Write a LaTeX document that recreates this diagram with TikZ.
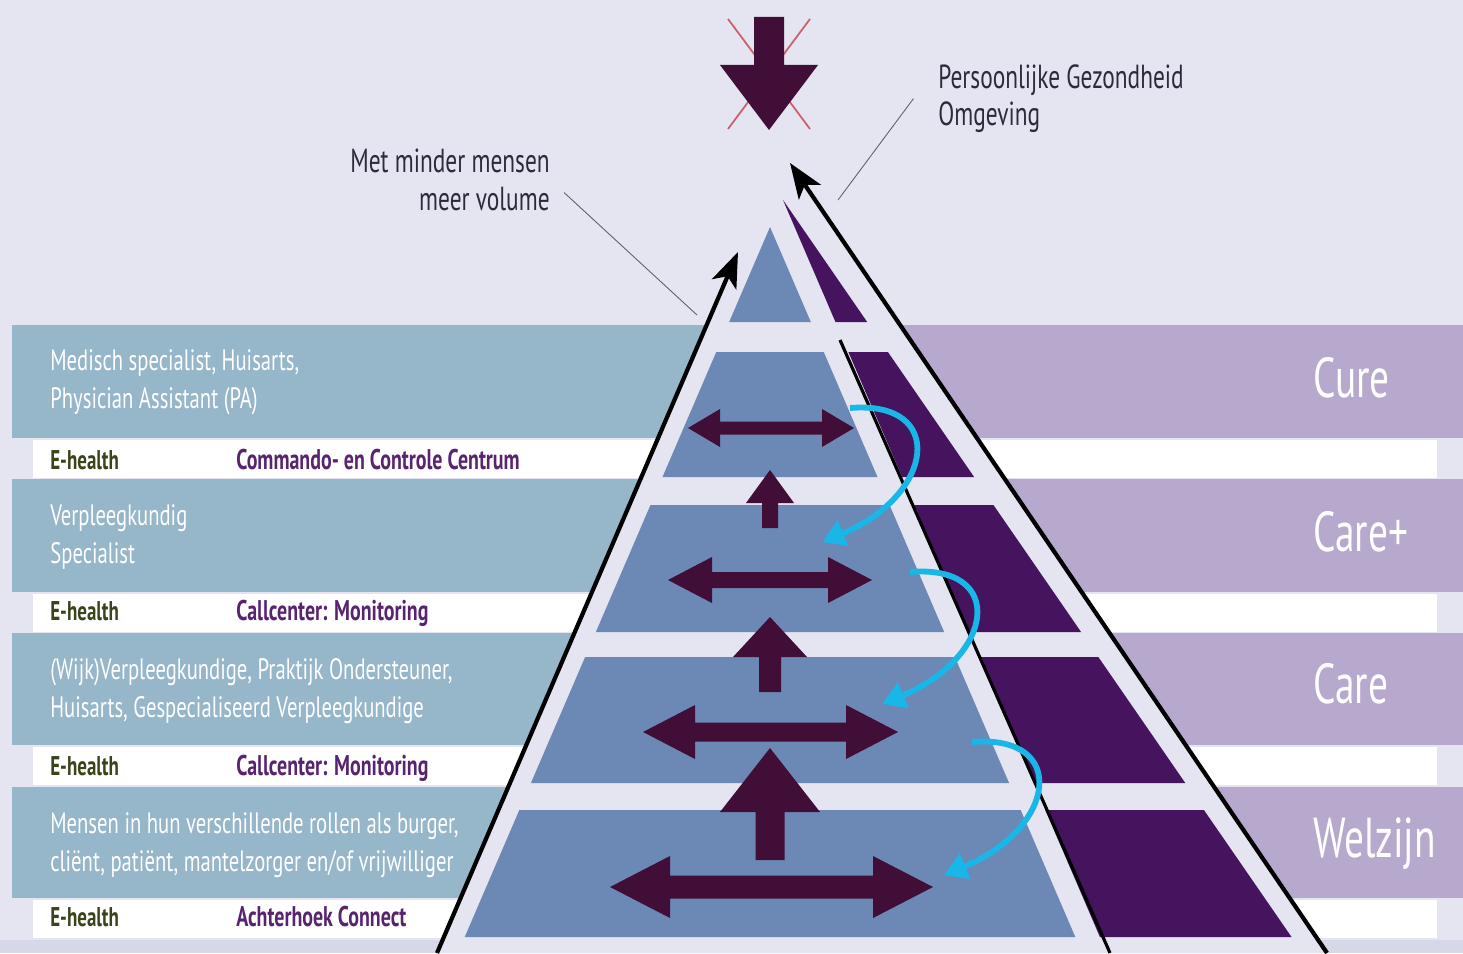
\documentclass[tikz,border=0pt]{standalone}
\usepackage{fontspec}
\setmainfont{PT Sans}[FakeStretch=0.7]
\usetikzlibrary{arrows.meta}
\definecolor{bgcol}{RGB}{228,229,241}
\definecolor{bottomcol}{RGB}{214,216,232}
\definecolor{leftband}{RGB}{150,182,201}
\definecolor{rightband}{RGB}{183,168,205}
\definecolor{pyrblue}{RGB}{108,136,181}
\definecolor{pyrpurple}{RGB}{70,20,95}
\definecolor{plum}{RGB}{64,14,54}
\definecolor{flowcyan}{RGB}{25,182,232}
\definecolor{ehgreen}{RGB}{58,68,26}
\definecolor{ehpurple}{RGB}{88,36,112}
\definecolor{crossred}{RGB}{205,95,105}
\definecolor{notegray}{RGB}{42,44,60}
\definecolor{leadergray}{RGB}{95,95,110}
% blue tier of the pyramid: top y, bottom y
\newcommand{\tier}[2]{%
  \fill[pyrblue] ({770-0.43*(#1-227)},#1) -- ({770+0.43*(#1-227)},#1)
    -- ({770+0.43*(#2-227)},#2) -- ({770-0.43*(#2-227)},#2) -- cycle;}
% purple slice on the right flank: top y, bottom y
\newcommand{\slice}[2]{%
  \fill[pyrpurple] ({783+0.43*(#1-200)},#1) -- ({783+0.69*(#1-200)},#1)
    -- ({783+0.69*(#2-200)},#2) -- ({783+0.43*(#2-200)},#2) -- cycle;}
% horizontal double arrow: left tip, right tip, y, head length, head half, shaft half
\newcommand{\sidearrow}[6]{%
  \fill[plum] (#1,#3) -- (#1+#4,#3-#5) -- (#1+#4,#3-#6) -- (#2-#4,#3-#6)
    -- (#2-#4,#3-#5) -- (#2,#3) -- (#2-#4,#3+#5) -- (#2-#4,#3+#6)
    -- (#1+#4,#3+#6) -- (#1+#4,#3+#5) -- cycle;}
% upward arrow: x, tip y, head base y, head half, shaft half, shaft bottom y
\newcommand{\risearrow}[6]{%
  \fill[plum] (#1,#2) -- (#1+#4,#3) -- (#1+#5,#3) -- (#1+#5,#6)
    -- (#1-#5,#6) -- (#1-#5,#3) -- (#1-#4,#3) -- cycle;}
% curved cyan arrow between two named coordinates
\newcommand{\flowarrow}[2]{%
  \draw[flow] (#1) .. controls +(97,-8) and +(113,-47) .. (#2);}

\begin{document}
\begin{tikzpicture}[x=0.02cm, y=-0.02cm,
  role/.style={text=white, align=left, anchor=north west, inner sep=0pt,
    font=\fontsize{16.8}{21.5}\selectfont},
  ehealth/.style={text=ehgreen, anchor=base west, inner sep=0pt,
    font=\fontsize{15.4}{18}\selectfont\bfseries},
  ehtool/.style={text=ehpurple, anchor=base west, inner sep=0pt,
    font=\fontsize{16.2}{18}\selectfont\bfseries},
  levellabel/.style={text=white, anchor=base west, inner sep=0pt,
    font=\fontsize{32}{36}\selectfont},
  note/.style={text=notegray, inner sep=0pt, font=\fontsize{19}{21.5}\selectfont},
  leader/.style={draw=leadergray, line width=0.5pt},
  climb/.style={line width=2.4pt, -{Stealth[length=20pt,width=15pt,inset=5pt]}},
  flow/.style={draw=flowcyan, line width=3.3pt, -{Triangle[length=13pt,width=15pt]}},
]
  \useasboundingbox (0,0) rectangle (1463,953);
  \clip (0,0) rectangle (1463,953);
  \fill[bgcol] (0,0) rectangle (1463,953);
  \fill[bottomcol] (0,940) rectangle (1463,953);
 %
  % bands
  \foreach \top/\bot in {325/438, 479/592, 633/745, 787/898} {
    \fill[leftband]  (12,\top)  rectangle (800,\bot);
    \fill[rightband] (800,\top) rectangle (1463,\bot);
    \fill[white]     (33,\bot+2) rectangle (1437,\bot+40);
  }
 %
  % pyramid body
  \fill[bgcol] (437,953) -- (738,252) -- (790,163) -- (1327,953) -- cycle;
  \tier{227}{322}
  \tier{352}{477}
  \tier{505}{632}
  \tier{657}{783}
  \tier{810}{937}
  \slice{200}{322}
  \slice{352}{477}
  \slice{505}{632}
  \slice{657}{783}
  \slice{810}{937}
  \coordinate (splitTop) at (840,340);
  \coordinate (splitFoot) at (1110,953);
  \draw[line width=1.8pt] (splitTop) -- (splitFoot);
 %
  \coordinate (leftFoot) at (437,953);
  \coordinate (leftTip) at (738,252);
  \coordinate (rightFoot) at (1327,953);
  \coordinate (rightTip) at (790,163);
  \draw[climb] (leftFoot) -- (leftTip);
  \draw[climb] (rightFoot) -- (rightTip);
 %
  \sidearrow{688}{854}{428}{32}{19}{6.5}
  \sidearrow{668}{872}{580}{44}{23}{8}
  \sidearrow{643}{898}{732}{52}{27}{9.5}
  \sidearrow{610}{933}{887}{60}{31}{11.5}
  \risearrow{770}{470}{503}{24}{8}{528}
  \risearrow{770}{617}{657}{37}{11}{692}
  \risearrow{770}{748}{812}{50}{14.5}{860}
 %
  \coordinate (flowA) at (850,408);
  \coordinate (flowAend) at (822,542);
  \coordinate (flowB) at (910,572);
  \coordinate (flowBend) at (882,704);
  \coordinate (flowC) at (972,742);
  \coordinate (flowCend) at (944,875);
  \flowarrow{flowA}{flowAend}
  \flowarrow{flowB}{flowBend}
  \flowarrow{flowC}{flowCend}
 %
  % crossed out arrow on top
  \draw[crossred, line width=1pt] (728,19) -- (810,129);
  \draw[crossred, line width=1pt] (810,19) -- (728,129);
  \fill[plum] (754,17) -- (784,17) -- (784,65) -- (818,65) -- (769,130)
    -- (720,65) -- (754,65) -- cycle;
 %
  \node[note, align=right, anchor=north east] (volume) at (550,149)
    {Met minder mensen\\meer volume};
  \coordinate (volumeEnd) at (697,315);
  \draw[leader] ([xshift=8pt,yshift=-7pt]volume.east) -- (volumeEnd);
  \node[note, align=left, anchor=north west] (environment) at (938,64)
    {Persoonlijke Gezondheid\\Omgeving};
  \coordinate (environmentEnd) at (838,200);
  \draw[leader] ([xshift=-14pt]environment.west) -- (environmentEnd);
 %
  \node[role] (roleCure) at (50,349) {Medisch specialist, Huisarts,\\Physician Assistant (PA)};
  \node[role] (roleCarePlus) at (50,504) {Verpleegkundig\\Specialist};
  \node[role] (roleCare) at (50,658) {(Wijk)Verpleegkundige, Praktijk Ondersteuner,\\Huisarts, Gespecialiseerd Verpleegkundige};
  \node[role] (roleWelzijn) at (50,812) {Mensen in hun verschillende rollen als burger,\\cliënt, patiënt, mantelzorger en/of vrijwilliger};
  \node[ehealth] (ehCure) at (50,469) {E-health};
  \node[ehealth] (ehCarePlus) at (50,620) {E-health};
  \node[ehealth] (ehCare) at (50,775) {E-health};
  \node[ehealth] (ehWelzijn) at (50,926) {E-health};
  \node[ehtool] (toolCure) at (236,469) {Commando- en Controle Centrum};
  \node[ehtool] (toolCarePlus) at (236,620) {Callcenter: Monitoring};
  \node[ehtool] (toolCare) at (236,775) {Callcenter: Monitoring};
  \node[ehtool] (toolWelzijn) at (236,926) {Achterhoek Connect};
 %
  \node[levellabel] (cure) at (1313,397) {Cure};
  \node[levellabel] (carePlus) at (1313,551) {Care+};
  \node[levellabel] (care) at (1313,703) {Care};
  \node[levellabel] (welzijn) at (1313,857) {Welzijn};
\end{tikzpicture}
\end{document}
